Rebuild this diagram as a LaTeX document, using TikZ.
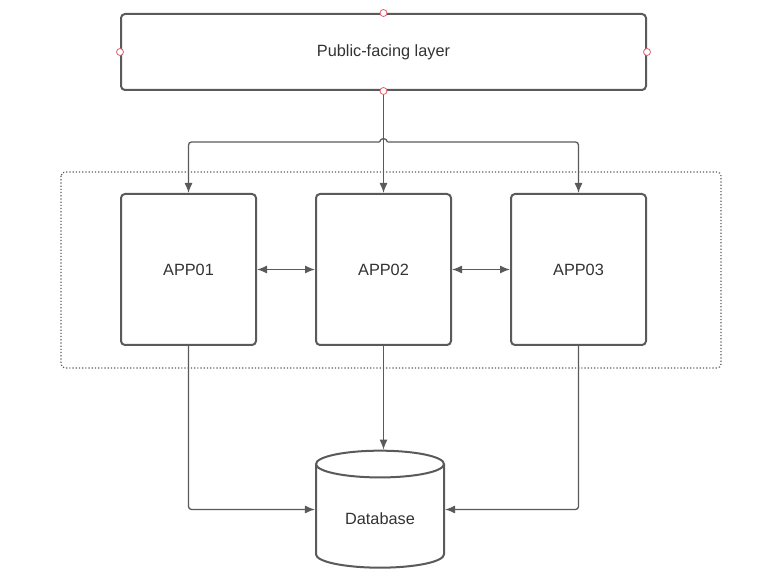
\documentclass[tikz,border=0pt]{standalone}
\usepackage{fontspec}
\setmainfont{Liberation Sans}
\usetikzlibrary{positioning}
\usetikzlibrary{shapes.geometric}
\usetikzlibrary{arrows.meta}
\definecolor{lineColor}{HTML}{5A5A5A}
\definecolor{textColor}{HTML}{333333}
\definecolor{portColor}{HTML}{E0606E}

\begin{document}
\begin{tikzpicture}[x=1pt, y=-1pt,
		box/.style={draw=lineColor, line width=2pt, fill=white, rounded corners=4pt, font=\fontsize{16.3}{19}\selectfont, text=textColor, align=center},
		port/.style={circle, draw=portColor, fill=white, line width=0.8pt, inner sep=0pt, minimum size=7pt},
		db/.style={cylinder, shape border rotate=90, aspect=0.35, draw=lineColor, line width=2pt, fill=white, font=\fontsize{16.3}{19}\selectfont, text=textColor},
		link/.style={draw=lineColor, line width=1.3pt, rounded corners=3pt, -{Latex[length=10pt, width=8pt]}},
		both/.style={link, {Latex[length=10pt, width=8pt]}-{Latex[length=10pt, width=8pt]}}
		]
		\useasboundingbox (0,0) rectangle (758,585);

		% group of app servers
		\draw[lineColor, line width=1.2pt, dash pattern=on 1.2pt off 2pt, rounded corners=4pt] (61,172) rectangle (721,368);

		\node[box, minimum width=525pt, minimum height=76pt] (pub) at (383.5,52) {Public-facing layer};

		\node[box, minimum width=135pt, minimum height=151pt] (app1) at (188.5,269.5) {APP01};
		\node[box, minimum width=135pt, minimum height=151pt] (app2) at (383.5,269.5) {APP02};
		\node[box, minimum width=135pt, minimum height=151pt] (app3) at (578.5,269.5) {APP03};

		\node[db, minimum width=128pt, minimum height=117pt] (base) at (380,518.5) {Database};

		\coordinate (split) at (383.5,142);
		\coordinate (hopL) at (379.5,142);
		\coordinate (hopR) at (387.5,142);

		\draw[link] (pub.south) -- (app2.north);
		\draw[link] (hopL) -| (app1.north);
		\draw[link] (hopR) -| (app3.north);
		\draw[link, -] (hopL) .. controls (380.5,137.5) and (386.5,137.5) .. (hopR);

		\draw[both] (app1.east) -- (app2.west);
		\draw[both] (app2.east) -- (app3.west);

		\draw[link] (app1.south) |- ([yshift=9pt]base.west);
		\draw[link] (app2.south) -- (app2.south |- base.north);
		\draw[link] (app3.south) |- ([yshift=9pt]base.east);

		\node[port] (p1) at (pub.north) {};
		\node[port] (p2) at (pub.west) {};
		\node[port] (p3) at (pub.east) {};
		\node[port] (p4) at (pub.south) {};
	\end{tikzpicture}
\end{document}
